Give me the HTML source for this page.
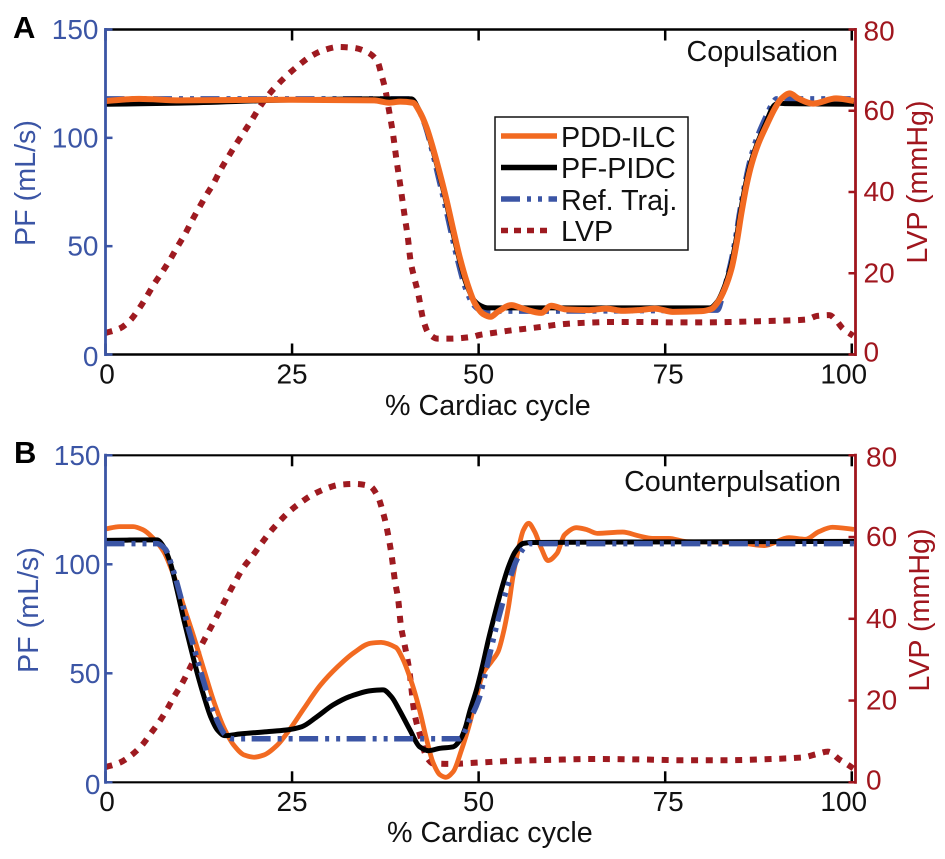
<!DOCTYPE html>
<html lang="en">
<head>
<meta charset="utf-8">
<title>Pump flow and LVP over the cardiac cycle</title>
<style>
html,body{margin:0;padding:0;background:#fff;width:945px;height:859px;overflow:hidden}
svg{display:block;font-family:"Liberation Sans",Arial,sans-serif}
</style>
</head>
<body>
<svg id="chart" width="945" height="859" viewBox="0 0 945 859" xmlns="http://www.w3.org/2000/svg">
  <rect width="945" height="859" fill="#fff"/>
  <g id="panel-a"></g>
  <g id="panel-b"></g>

  <text x="13" y="38" font-size="31" font-weight="bold" fill="#000">A</text>
  <text x="14" y="463" font-size="31" font-weight="bold" fill="#000">B</text>

  <text x="385" y="415" font-size="28.7" fill="#111">% Cardiac cycle</text>
  <text x="387" y="842" font-size="28.7" fill="#111">% Cardiac cycle</text>

  <text transform="translate(35,183) rotate(-90)" text-anchor="middle" font-size="28.7" fill="#3b55a5">PF (mL/s)</text>
  <text transform="translate(38,610) rotate(-90)" text-anchor="middle" font-size="28.7" fill="#3b55a5">PF (mL/s)</text>
  <text transform="translate(927,182) rotate(-90)" text-anchor="middle" font-size="28.7" fill="#a0161e">LVP (mmHg)</text>
  <text transform="translate(929,610) rotate(-90)" text-anchor="middle" font-size="28.7" fill="#a0161e">LVP (mmHg)</text>

  <text x="838" y="61" text-anchor="end" font-size="28.7" fill="#111">Copulsation</text>
  <text x="841" y="491" text-anchor="end" font-size="28.7" fill="#111">Counterpulsation</text>

  <g id="legend">
    <rect x="495" y="117" width="193" height="133" fill="#fff" stroke="#111" stroke-width="1.5"/>
    <line x1="501" x2="557" y1="136" y2="136" stroke="#f26a21" stroke-width="5.5"/>
    <line x1="501" x2="557" y1="167.5" y2="167.5" stroke="#000" stroke-width="5.5"/>
    <line x1="501" x2="557" y1="199" y2="199" stroke="#3b55a5" stroke-width="5.5" stroke-dasharray="19 7 4 7 4 6.5"/>
    <line x1="501" x2="553" y1="230.5" y2="230.5" stroke="#9e1a20" stroke-width="5.5" stroke-dasharray="7 6"/>
    <text x="561" y="147" font-size="28.7" fill="#111">PDD-ILC</text>
    <text x="561" y="178" font-size="28.7" fill="#111">PF-PIDC</text>
    <text x="561" y="210" font-size="28.7" fill="#111">Ref. Traj.</text>
    <text x="561" y="241" font-size="28.7" fill="#111">LVP</text>
  </g>
</svg>

<script>
// ---- tick labels ----
const xTicks = [0, 25, 50, 75, 100];
const pfTicks = [0, 50, 100, 150];
const lvpTicks = [0, 20, 40, 60, 80];

// ---- Panel A: copulsation ----
const aLvpX = [0,1.9,3.3,4.5,5.5,6.5,7.6,8.7,9.7,10.7,11.6,12.5,13.5,14.5,15.4,16.4,17.4,18.5,19.6,20.7,21.8,23,24.5,25.9,27.5,29.2,31.2,33.2,35,36.4,37,37.5,37.9,38.5,39,39.6,40.1,40.5,40.9,41.4,41.9,42.6,43.3,44.5,46.3,49,50.1,52.3,54.6,56.6,58.4,60.4,62.2,64.2,68,72,76,80,83.6,87.6,91.7,93.9,95.4,97,97.9,98.8,100.2];
const aLvpY = [5.3,6.4,8.4,11.3,14.2,17.3,20.3,23.5,26.7,29.8,33,36,39.2,42.2,45.4,48.5,51.5,54.6,57.7,61,63.8,66.3,69,71.2,73.4,74.9,75.7,75.5,74.5,72.3,68.7,65.2,61,54.6,47.8,40.4,33.9,29,22.8,18.7,15,8.4,5.2,3.9,3.9,4.3,4.8,5.4,6,6.4,6.8,7.3,7.6,7.8,8,8,7.9,7.9,8,8.2,8.4,8.6,9.5,9.7,8.4,6.4,4.6];
const aRefX = [0,41,41.8,42.8,43.7,44.6,45.5,46.4,47.3,48.2,49.3,50.2,51,82,82.8,83.7,84.4,85,85.7,86.4,87.3,88.4,89.4,89.9,100.3];
const aRefY = [118,118,114,106,95,82,69,55,42,31,23,20.5,20,20.5,29,41,53,66,79,90,100,109,116,118,118];
const aPidcX = [0,10,25,35,41,42,42.9,43.8,44.7,45.6,46.5,47.4,48.3,49.4,50.3,51.2,60,81,82,82.9,83.8,84.5,85.1,85.8,86.5,87.4,88.5,89.6,90.2,91,100.3];
const aPidcY = [115.5,116,117.5,118,118,113,105.5,95,83.5,71,57,44,33,25,22.5,21.5,21.5,21.5,24.5,31,41,53,66,79,89,98,107,115,116,115.8,115.5];
const aPddX = [0,4.5,10,25,36,38,39.5,41.2,42.1,43,43.9,44.8,45.7,46.6,47.5,48.4,49.5,50.6,51.6,52.6,54.4,55.9,58.4,59.7,61.7,64.8,67.1,69.3,71.5,73.6,76,79.9,81.2,82.1,83,83.9,84.6,85.2,85.9,86.6,87.5,88.6,89.7,90.6,91.7,92.8,94.8,97.9,100.3];
const aPddY = [117,118,117.3,117.6,117.3,116.2,116.7,116.2,112,105,95,83.6,71.3,57.5,44.4,33.6,23.6,18.7,17.4,19.8,22.8,21.2,19.2,22.5,20.8,20.5,21.2,20.2,20.5,21.2,19.7,20,21,24.4,30.5,39.8,52,65,78.2,88.2,97.5,105.9,113.6,118.2,120.5,118.2,115.8,118.2,117];

// ---- Panel B: counterpulsation ----
const bLvpX = [0,1.9,3.3,4.8,6,7.2,8.2,9.2,10.2,11.3,12.5,13.8,14.8,15.6,16.4,17.5,18.5,19.7,20.8,22,23.3,24.6,26.2,27.7,29.6,31.4,33.4,35.4,36.5,37.1,37.6,38.3,38.8,39.2,39.6,40,40.7,41.4,42.2,43,43.9,46.1,49.7,54.1,59.9,65.7,71.5,77.4,83.2,89.2,93.5,95.3,96.8,98.4,99.3,100.2];
const bLvpY = [3.7,4.8,6.4,8.9,11.8,14.8,17.7,21,24,27.9,32.3,36.8,40.2,43,45.8,49.5,52.6,55.4,58.2,61.1,63.8,66.2,68.5,70.3,71.9,72.8,73,72.5,69.9,66.6,63,56,49.1,45,38.1,34.4,27.5,16.9,11.2,6.3,4.6,4.5,4.8,5.2,5.5,5.7,5.6,5.4,5.4,5.7,6.1,6.9,7.5,5.5,4.5,3.4];
const bPddX = [0,1.9,3.7,5.1,6.4,7.8,9.2,10.5,11.9,13.2,14.6,15.9,17.2,18.6,19.9,21.2,23,24.8,26.6,28.8,31.1,33.3,35.5,36.9,38.9,39.8,41.1,42.1,43,43.9,44.8,45.6,46.6,47.7,48.8,49.7,50.6,51.7,52.6,53.3,54,54.6,55.3,56,56.7,57.5,58.4,59.3,60.5,61.5,63.1,64.4,65.9,69.3,71.5,73.3,75.5,77.8,84.5,88.3,91.6,93.8,95.6,97.4,100.3];
const bPddY = [116.2,117.3,117.3,115.7,111.9,105.8,94.3,80.6,66,51.5,36.2,24.8,17,12.5,11.5,12.5,17,24.8,33.9,44.6,53,59.5,63.8,64.2,61.9,56.9,45,33,20,9,3.5,2.3,4.9,14.8,27,39.3,50,55.3,59.9,68.4,80.5,94.3,106.6,115.7,118.8,115,107.3,101.7,105,113.5,116.8,116,114.2,114.8,113,111.9,111.9,110.4,110,108.6,112.2,111.5,115,117,116];
const bPidcX = [0,6.9,7.8,8.7,9.6,10.5,11.4,12.3,13.2,14.1,15,16,18.1,21.6,24.2,26.3,28.3,30.5,32.7,35.5,37.2,38.3,39.4,40.8,42.1,43.3,44.8,46.6,47.5,48.2,48.8,49.7,50.6,51.3,52.2,53.1,54,54.9,56,57.1,100.3];
const bPidcY = [111,111.2,108,100.5,88,74.5,62,50,39.3,30,24,21.4,22.2,23.2,24,25.5,30,35.5,39.3,42,42.4,39.3,33,24,16.3,14.5,15.6,16.3,19.4,24.8,32.4,42.3,54.6,65.3,77.5,89,98.9,105.8,109.6,110,110.5];
const bRefX = [0,6.9,8,9,10,11,12,13,14,15,16,17,47.5,48.8,50,51.1,52.6,54,55.1,56.2,56.9,100.3];
const bRefY = [109.5,109.5,107,98,86,72,60,48,37,28,22,20,20,28.6,37.8,53,74.5,91.3,102,108,109.5,109.5];

// ---- axis functions ----
const xScale = v => 105.5 + (v / 100.5) * 750;
const pfScale = (v, p) => p.bottom - (v / 150) * (p.bottom - p.top);
const lvpScale = (v, p) => p.bottom - (v / 80) * (p.bottom - p.top);

const NS = 'http://www.w3.org/2000/svg';
function mk(parent, tag, name, attrs, txt) {
  const el = document.createElementNS(NS, tag);
  
  
  for (const k in attrs) el.setAttribute(k, attrs[k]);
  if (txt !== undefined) el.textContent = txt;
  parent.appendChild(el);
  return el;
}

// monotone cubic path through the data points
function curve(xs, ys) {
  const n = xs.length, d = [], m = [];
  for (let i = 0; i < n - 1; i++) d.push((ys[i + 1] - ys[i]) / (xs[i + 1] - xs[i]));
  m.push(d[0]);
  for (let i = 1; i < n - 1; i++) m.push(d[i - 1] * d[i] <= 0 ? 0 : 2 * d[i - 1] * d[i] / (d[i - 1] + d[i]));
  m.push(d[n - 2]);
  let s = 'M' + xs[0].toFixed(2) + ' ' + ys[0].toFixed(2);
  for (let i = 0; i < n - 1; i++) {
    const h = (xs[i + 1] - xs[i]) / 3;
    s += 'C' + (xs[i] + h).toFixed(2) + ' ' + (ys[i] + m[i] * h).toFixed(2) + ' ' +
         (xs[i + 1] - h).toFixed(2) + ' ' + (ys[i + 1] - m[i + 1] * h).toFixed(2) + ' ' +
         xs[i + 1].toFixed(2) + ' ' + ys[i + 1].toFixed(2);
  }
  return s;
}

const BLUE = '#3b55a5', RED = '#a0161e';

function drawSeries(g, p, s) {
  const px = s.x.map(xScale);
  const py = s.y.map(v => s.axis === 'lvp' ? lvpScale(v, p) : pfScale(v, p));
  mk(g, 'path', p.id + '-' + s.name + '-line', {
    d: curve(px, py), fill: 'none', stroke: s.color, 'stroke-width': s.width,
    'stroke-dasharray': s.dash || 'none', 'stroke-linejoin': 'round'
  });
}

function drawAxes(g, p) {
  const L = xScale(0), R = 855.5;
  mk(g, 'line', p.id + '-top-border', { x1: L, x2: R, y1: p.top, y2: p.top, stroke: '#000', 'stroke-width': p.frame });
  mk(g, 'line', p.id + '-bottom-axis', { x1: L, x2: R, y1: p.bottom, y2: p.bottom, stroke: '#000', 'stroke-width': p.frame });
  xTicks.forEach(t => {
    const x = xScale(t);
    mk(g, 'line', p.id + '-x-tick-bottom-' + t, { x1: x, x2: x, y1: p.bottom, y2: p.bottom - 11, stroke: '#000', 'stroke-width': 2.5 });
    mk(g, 'line', p.id + '-x-tick-top-' + t, { x1: x, x2: x, y1: p.top, y2: p.top + 11, stroke: '#000', 'stroke-width': 2.5 });
    const nudge = t === 100 ? -8 : t === 0 ? 1.5 : t === 75 ? 3 : 0;
    mk(g, 'text', p.id + '-x-tick-label-' + t, { x: x + nudge, y: p.xLabelY, 'text-anchor': 'middle', 'font-size': 28, fill: '#111' }, t);
  });
  mk(g, 'line', p.id + '-left-axis', { x1: L, x2: L, y1: p.top - 1.5, y2: p.bottom + 1.5, stroke: BLUE, 'stroke-width': 2.8 });
  pfTicks.forEach(t => {
    const y = pfScale(t, p);
    mk(g, 'line', p.id + '-pf-tick-' + t, { x1: L, x2: L + 7, y1: y, y2: y, stroke: BLUE, 'stroke-width': 2.5 });
    mk(g, 'text', p.id + '-pf-tick-label-' + t, { x: p.pfLabelX, y: y + (t === 0 ? 11.5 : 9.5), 'text-anchor': 'end', 'font-size': 28, fill: BLUE }, t);
  });
  mk(g, 'line', p.id + '-right-axis', { x1: R, x2: R, y1: p.top - 1.5, y2: p.bottom + 1.5, stroke: RED, 'stroke-width': 2.8 });
  lvpTicks.forEach(t => {
    const y = lvpScale(t, p);
    mk(g, 'line', p.id + '-lvp-tick-' + t, { x1: R, x2: R - 7, y1: y, y2: y, stroke: RED, 'stroke-width': 2.5 });
    mk(g, 'text', p.id + '-lvp-tick-label-' + t, { x: p.lvpLabelX, y: y + (t === 80 ? 11 : t === 0 ? 7 : 9), 'font-size': 28, fill: RED }, t);
  });
}

const panelA = { id: 'panel-a', top: 29.5, bottom: 354.5, frame: 2.6, xLabelY: 383.5, pfLabelX: 98.5, lvpLabelX: 863.5 };
const panelB = { id: 'panel-b', top: 455.3, bottom: 782.3, frame: 2.2, xLabelY: 811, pfLabelX: 100.5, lvpLabelX: 866 };

const seriesA = [
  { name: 'lvp', axis: 'lvp', x: aLvpX, y: aLvpY, color: '#9e1a20', width: 6, dash: '7 7.7' },
  { name: 'ref-traj', axis: 'pf', x: aRefX, y: aRefY, color: BLUE, width: 5.5, dash: '19 7 4 7 4 6.5' },
  { name: 'pf-pidc', axis: 'pf', x: aPidcX, y: aPidcY, color: '#000', width: 5 },
  { name: 'pdd-ilc', axis: 'pf', x: aPddX, y: aPddY, color: '#f26a21', width: 6 }
];
const seriesB = [
  { name: 'lvp', axis: 'lvp', x: bLvpX, y: bLvpY, color: '#9e1a20', width: 6, dash: '7 7.7' },
  { name: 'pdd-ilc', axis: 'pf', x: bPddX, y: bPddY, color: '#f26a21', width: 4.8 },
  { name: 'pf-pidc', axis: 'pf', x: bPidcX, y: bPidcY, color: '#000', width: 5 },
  { name: 'ref-traj', axis: 'pf', x: bRefX, y: bRefY, color: BLUE, width: 5.5, dash: '19 7 4 7 4 6.5' }
];

const gA = document.getElementById('panel-a');
const gB = document.getElementById('panel-b');
seriesA.forEach(s => drawSeries(gA, panelA, s));
drawAxes(gA, panelA);
seriesB.forEach(s => drawSeries(gB, panelB, s));
drawAxes(gB, panelB);
</script>
</body>
</html>
